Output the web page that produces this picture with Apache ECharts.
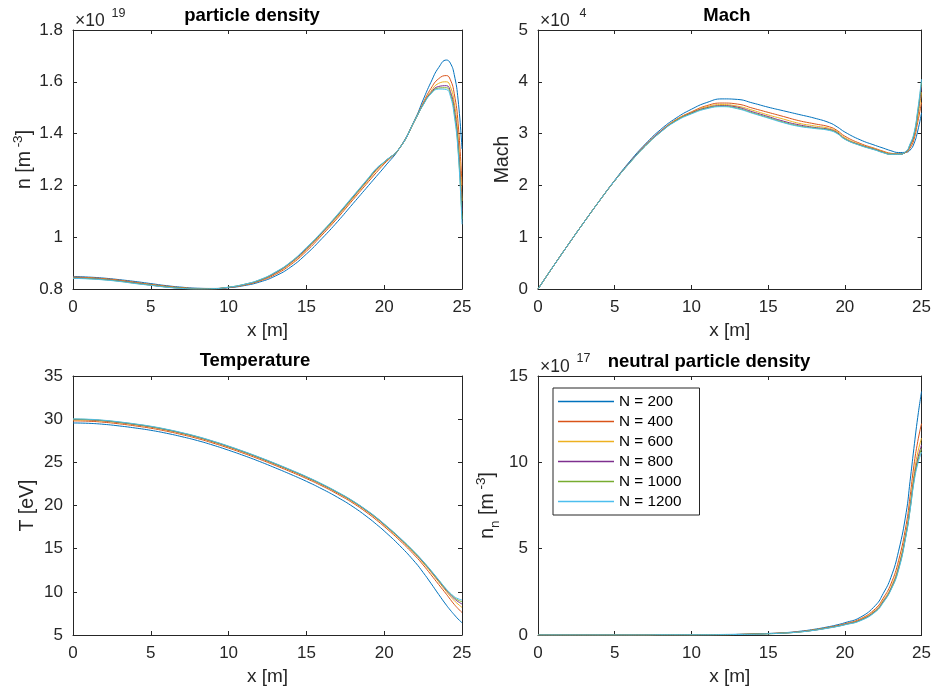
<!DOCTYPE html>
<html>
<head>
<meta charset="utf-8">
<script src="https://cdn.jsdelivr.net/npm/echarts@6/dist/echarts.min.js"></script>
<style>
  html, body { margin: 0; padding: 0; background: #ffffff; }
  #chart { width: 934px; height: 691px; }
</style>
</head>
<body>
<div id="chart"></div>
<script>
// Position along the domain [m]
const xs = [0,1,2,3,4,5,6,7,8,9,10,11,12,13,14,15,16,17,18,19,19.5,20,21,22,22.5,23,23.5,24,24.25,24.5,24.75,25];

// Resolution runs
const runNames = ['N = 200','N = 400','N = 600','N = 800','N = 1000','N = 1200'];

// Particle density [1e19 m^-3]
const dens200  = [0.848,0.846,0.842,0.836,0.829,0.821,0.813,0.807,0.803,0.802,0.805,0.813,0.827,0.850,0.885,0.935,0.995,1.060,1.130,1.200,1.235,1.270,1.345,1.458,1.530,1.598,1.655,1.684,1.672,1.628,1.530,1.340];
const dens400  = [0.846,0.844,0.840,0.834,0.826,0.818,0.811,0.805,0.802,0.802,0.806,0.815,0.831,0.856,0.894,0.946,1.008,1.074,1.145,1.215,1.250,1.283,1.345,1.455,1.518,1.574,1.612,1.624,1.608,1.555,1.440,1.200];
const dens600  = [0.844,0.842,0.838,0.832,0.824,0.816,0.809,0.804,0.801,0.801,0.806,0.816,0.833,0.860,0.899,0.952,1.014,1.080,1.151,1.222,1.258,1.288,1.345,1.455,1.514,1.563,1.594,1.600,1.582,1.520,1.390,1.140];
const dens800  = [0.843,0.841,0.837,0.831,0.823,0.815,0.808,0.803,0.800,0.801,0.806,0.817,0.834,0.862,0.902,0.955,1.017,1.084,1.155,1.226,1.262,1.290,1.345,1.455,1.512,1.558,1.582,1.585,1.563,1.497,1.360,1.100];
const dens1000 = [0.842,0.840,0.836,0.830,0.822,0.815,0.808,0.803,0.800,0.801,0.807,0.818,0.835,0.864,0.904,0.958,1.019,1.086,1.157,1.228,1.264,1.290,1.345,1.455,1.511,1.555,1.576,1.577,1.553,1.482,1.342,1.070];
const dens1200 = [0.841,0.839,0.835,0.829,0.821,0.814,0.807,0.802,0.800,0.801,0.807,0.818,0.836,0.865,0.905,0.960,1.021,1.088,1.159,1.230,1.266,1.291,1.345,1.455,1.510,1.553,1.572,1.570,1.545,1.470,1.330,1.050];

// Mach number [1e4]
const mach200  = [0,0.44,0.87,1.29,1.70,2.10,2.47,2.80,3.08,3.30,3.47,3.60,3.67,3.66,3.59,3.51,3.44,3.37,3.30,3.21,3.13,3.03,2.88,2.77,2.72,2.67,2.635,2.64,2.68,2.80,3.05,3.40];
const mach400  = [0,0.44,0.87,1.29,1.70,2.09,2.45,2.78,3.05,3.27,3.42,3.54,3.59,3.57,3.49,3.41,3.33,3.25,3.19,3.13,3.06,2.95,2.81,2.71,2.66,2.62,2.61,2.64,2.72,2.88,3.22,3.60];
const mach600  = [0,0.44,0.87,1.29,1.70,2.09,2.45,2.77,3.04,3.26,3.41,3.52,3.56,3.53,3.45,3.36,3.28,3.20,3.15,3.10,3.04,2.92,2.79,2.70,2.65,2.61,2.605,2.645,2.75,2.93,3.30,3.80];
const mach800  = [0,0.44,0.87,1.29,1.70,2.09,2.45,2.77,3.04,3.25,3.40,3.50,3.54,3.51,3.42,3.33,3.24,3.17,3.12,3.08,3.02,2.90,2.78,2.69,2.64,2.60,2.60,2.65,2.77,2.96,3.38,3.92];
const mach1000 = [0,0.44,0.87,1.29,1.70,2.09,2.44,2.76,3.03,3.25,3.39,3.49,3.53,3.49,3.40,3.31,3.22,3.15,3.11,3.07,3.01,2.895,2.775,2.685,2.635,2.60,2.60,2.655,2.79,2.98,3.42,4.00];
const mach1200 = [0,0.44,0.87,1.29,1.70,2.09,2.44,2.76,3.03,3.24,3.38,3.48,3.52,3.48,3.39,3.30,3.21,3.14,3.10,3.06,3.00,2.89,2.77,2.68,2.63,2.60,2.60,2.66,2.80,3.00,3.45,4.05];

// Temperature [eV]
const temp200  = [29.56,29.52,29.40,29.21,28.98,28.71,28.37,27.97,27.52,26.99,26.40,25.77,25.09,24.36,23.60,22.80,21.92,20.95,19.85,18.55,17.82,17.05,15.35,13.40,12.25,11.00,9.70,8.45,7.88,7.35,6.85,6.42];
const temp400  = [29.80,29.76,29.64,29.45,29.22,28.95,28.61,28.21,27.76,27.23,26.65,26.02,25.35,24.64,23.90,23.12,22.27,21.32,20.27,19.02,18.32,17.57,15.95,14.15,13.12,12.00,10.85,9.72,9.12,8.55,8.05,7.60];
const temp600  = [29.92,29.88,29.76,29.57,29.34,29.07,28.73,28.33,27.88,27.35,26.77,26.14,25.47,24.76,24.02,23.24,22.39,21.45,20.40,19.17,18.48,17.73,16.12,14.35,13.35,12.28,11.15,10.02,9.48,8.98,8.57,8.20];
const temp800  = [29.97,29.93,29.81,29.62,29.39,29.12,28.78,28.38,27.93,27.40,26.82,26.19,25.52,24.81,24.07,23.29,22.44,21.50,20.46,19.23,18.55,17.80,16.20,14.43,13.45,12.40,11.28,10.16,9.66,9.21,8.86,8.59];
const temp1000 = [30.00,29.96,29.84,29.65,29.42,29.15,28.81,28.41,27.96,27.43,26.85,26.22,25.55,24.84,24.10,23.32,22.47,21.53,20.49,19.27,18.59,17.84,16.24,14.48,13.50,12.45,11.35,10.25,9.77,9.34,9.04,8.85];
const temp1200 = [30.03,29.99,29.87,29.68,29.45,29.18,28.84,28.44,27.99,27.46,26.88,26.25,25.58,24.87,24.13,23.35,22.50,21.56,20.52,19.30,18.62,17.87,16.28,14.52,13.55,12.50,11.40,10.30,9.85,9.45,9.20,9.05];

// Neutral particle density [1e17 m^-3]
const neut200  = [0,0,0,0,0,0,0,0.01,0.01,0.01,0.01,0.02,0.03,0.04,0.06,0.09,0.13,0.21,0.33,0.49,0.59,0.71,1.02,1.72,2.40,3.33,4.85,7.10,8.90,10.80,12.60,14.10];
const neut400  = [0,0,0,0,0,0,0,0,0.01,0.01,0.01,0.02,0.02,0.03,0.05,0.08,0.12,0.19,0.30,0.45,0.54,0.65,0.93,1.53,2.13,2.95,4.30,6.40,8.00,9.80,11.20,12.24];
const neut600  = [0,0,0,0,0,0,0,0,0.01,0.01,0.01,0.02,0.02,0.03,0.05,0.08,0.12,0.18,0.29,0.44,0.52,0.62,0.89,1.45,2.01,2.76,4.02,6.05,7.55,9.25,10.55,11.40];
const neut800  = [0,0,0,0,0,0,0,0,0.01,0.01,0.01,0.01,0.02,0.03,0.05,0.08,0.11,0.18,0.28,0.43,0.51,0.61,0.86,1.40,1.94,2.67,3.88,5.90,7.35,9.00,10.20,11.00];
const neut1000 = [0,0,0,0,0,0,0,0,0.01,0.01,0.01,0.01,0.02,0.03,0.05,0.07,0.11,0.17,0.28,0.42,0.50,0.60,0.84,1.37,1.90,2.63,3.81,5.85,7.25,8.90,10.05,10.80];
const neut1200 = [0,0,0,0,0,0,0,0,0.01,0.01,0.01,0.01,0.02,0.03,0.04,0.07,0.11,0.17,0.27,0.41,0.49,0.59,0.82,1.34,1.87,2.60,3.75,5.80,7.20,8.80,9.90,10.60];

// Tick settings of the four axes
const xTicks = { min: 0, max: 25, interval: 5 };
const densTicks = { min: 0.8, max: 1.8, interval: 0.2 };
const machTicks = { min: 0, max: 5, interval: 1 };
const tempTicks = { min: 5, max: 35, interval: 5 };
const neutTicks = { min: 0, max: 15, interval: 5 };

const FONT = '"Liberation Sans", Arial, Helvetica, sans-serif';
const AXIS_COLOR = '#262626';
const lineColors = ['#0072BD', '#D95319', '#EDB120', '#7E2F8E', '#77AC30', '#4DBEEE'];

const supRich = {
  b: { fontSize: 19.5, fontFamily: FONT, color: AXIS_COLOR, lineHeight: 28 },
  s: { fontSize: 13.5, fontFamily: FONT, color: AXIS_COLOR, lineHeight: 14, verticalAlign: 'top' },
  d: { fontSize: 13.5, fontFamily: FONT, color: AXIS_COLOR, lineHeight: 12, verticalAlign: 'bottom' }
};

const panels = [
  { grid: { left: 73, top: 30, width: 389, height: 259 }, y: densTicks,
    runs: [dens200, dens400, dens600, dens800, dens1000, dens1200],
    yName: '{b|n [m}{s| -3}{b|]}', yGap: 34 },
  { grid: { left: 538, top: 30, width: 387, height: 259 }, y: machTicks,
    runs: [mach200, mach400, mach600, mach800, mach1000, mach1200],
    yName: '{b|Mach}', yGap: 21 },
  { grid: { left: 73, top: 376, width: 389, height: 259 }, y: tempTicks,
    runs: [temp200, temp400, temp600, temp800, temp1000, temp1200],
    yName: '{b|T [eV]}', yGap: 31 },
  { grid: { left: 538, top: 376, width: 387, height: 259 }, y: neutTicks,
    runs: [neut200, neut400, neut600, neut800, neut1000, neut1200],
    yName: '{b|n}{d|n}{b| [m}{s| -3}{b|]}', yGap: 36 }
];

const tickStyle = { show: true, inside: true, length: 4, lineStyle: { color: AXIS_COLOR, width: 1 } };
const lineStyleAxis = { show: true, onZero: false, lineStyle: { color: AXIS_COLOR, width: 1 } };
const labelStyle = { color: AXIS_COLOR, fontSize: 17, fontFamily: FONT };

const grids = [], xAxes = [], yAxes = [], series = [];
panels.forEach((p, i) => {
  grids.push(Object.assign({ containLabel: false }, p.grid));
  xAxes.push({
    type: 'value', gridIndex: i, position: 'bottom',
    min: xTicks.min, max: xTicks.max, interval: xTicks.interval,
    axisLine: lineStyleAxis, axisTick: tickStyle, splitLine: { show: false },
    axisLabel: Object.assign({ margin: 10 }, labelStyle),
    name: 'x [m]', nameLocation: 'middle', nameGap: 32,
    nameTextStyle: { color: AXIS_COLOR, fontSize: 19, fontFamily: FONT }
  });
  yAxes.push({
    type: 'value', gridIndex: i, position: 'left',
    min: p.y.min, max: p.y.max, interval: p.y.interval,
    axisLine: lineStyleAxis, axisTick: tickStyle, splitLine: { show: false },
    axisLabel: Object.assign({ margin: 10 }, labelStyle),
    name: p.yName, nameLocation: 'middle', nameRotate: 90, nameGap: p.yGap,
    nameTextStyle: { rich: supRich }
  });
  p.runs.forEach((vals, k) => {
    series.push({
      type: 'line', name: runNames[k], xAxisIndex: i, yAxisIndex: i,
      data: xs.map((x, j) => [x, vals[j]]),
      symbol: 'none', showSymbol: false, smooth: 0.5,
      lineStyle: { width: 1, color: lineColors[k] },
      itemStyle: { color: lineColors[k] },
      emphasis: { disabled: true }
    });
  });
});
// Mirror axes that close each box with inward ticks on top and right
panels.forEach((p, i) => {
  xAxes.push({
    type: 'value', gridIndex: i, position: 'top',
    min: xTicks.min, max: xTicks.max, interval: xTicks.interval,
    axisLine: lineStyleAxis, axisTick: tickStyle, axisLabel: { show: false }, splitLine: { show: false }
  });
  yAxes.push({
    type: 'value', gridIndex: i, position: 'right',
    min: p.y.min, max: p.y.max, interval: p.y.interval,
    axisLine: lineStyleAxis, axisTick: tickStyle, axisLabel: { show: false }, splitLine: { show: false }
  });
});

function txt(text, x, y, size, opts) {
  return {
    type: 'text', x: x, y: y, silent: true,
    style: Object.assign({
      text: text, fontSize: size, fontFamily: FONT, fill: AXIS_COLOR,
      textAlign: 'left', textVerticalAlign: 'middle'
    }, opts || {})
  };
}

const decorations = [
  txt('particle density', 252, 16, 18.5, { fontWeight: 'bold', fill: '#000', textAlign: 'center' }),
  txt('Mach', 727, 15.5, 18.5, { fontWeight: 'bold', fill: '#000', textAlign: 'center' }),
  txt('Temperature', 255, 361, 18.5, { fontWeight: 'bold', fill: '#000', textAlign: 'center' }),
  txt('neutral particle density', 709, 361.5, 18.5, { fontWeight: 'bold', fill: '#000', textAlign: 'center' }),
  txt('\u00d710', 75, 21.5, 17.5),
  txt('19', 111.5, 14, 12.5),
  txt('\u00d710', 540, 21.5, 17.5),
  txt('4', 579.5, 14, 12.5),
  txt('\u00d710', 540, 367.5, 17.5),
  txt('17', 576.5, 359, 12.5)
];

const chart = echarts.init(document.getElementById('chart'), null, { renderer: 'canvas' });
chart.setOption({
  animation: false,
  backgroundColor: '#ffffff',
  textStyle: { fontFamily: FONT },
  grid: grids,
  xAxis: xAxes,
  yAxis: yAxes,
  legend: {
    data: runNames.map((n, k) => ({
      name: n, icon: 'rect',
      itemStyle: { color: lineColors[k], borderWidth: 0, opacity: 1 }
    })),
    orient: 'vertical', left: 553, top: 388,
    padding: [6, 18, 6, 5], itemGap: 5, itemWidth: 56, itemHeight: 1.6,
    borderColor: AXIS_COLOR, borderWidth: 1, backgroundColor: '#ffffff',
    textStyle: { color: '#000', fontSize: 15.3, fontFamily: FONT, lineHeight: 15 },
    selectedMode: false
  },
  graphic: decorations,
  series: series
});
</script>
</body>
</html>
